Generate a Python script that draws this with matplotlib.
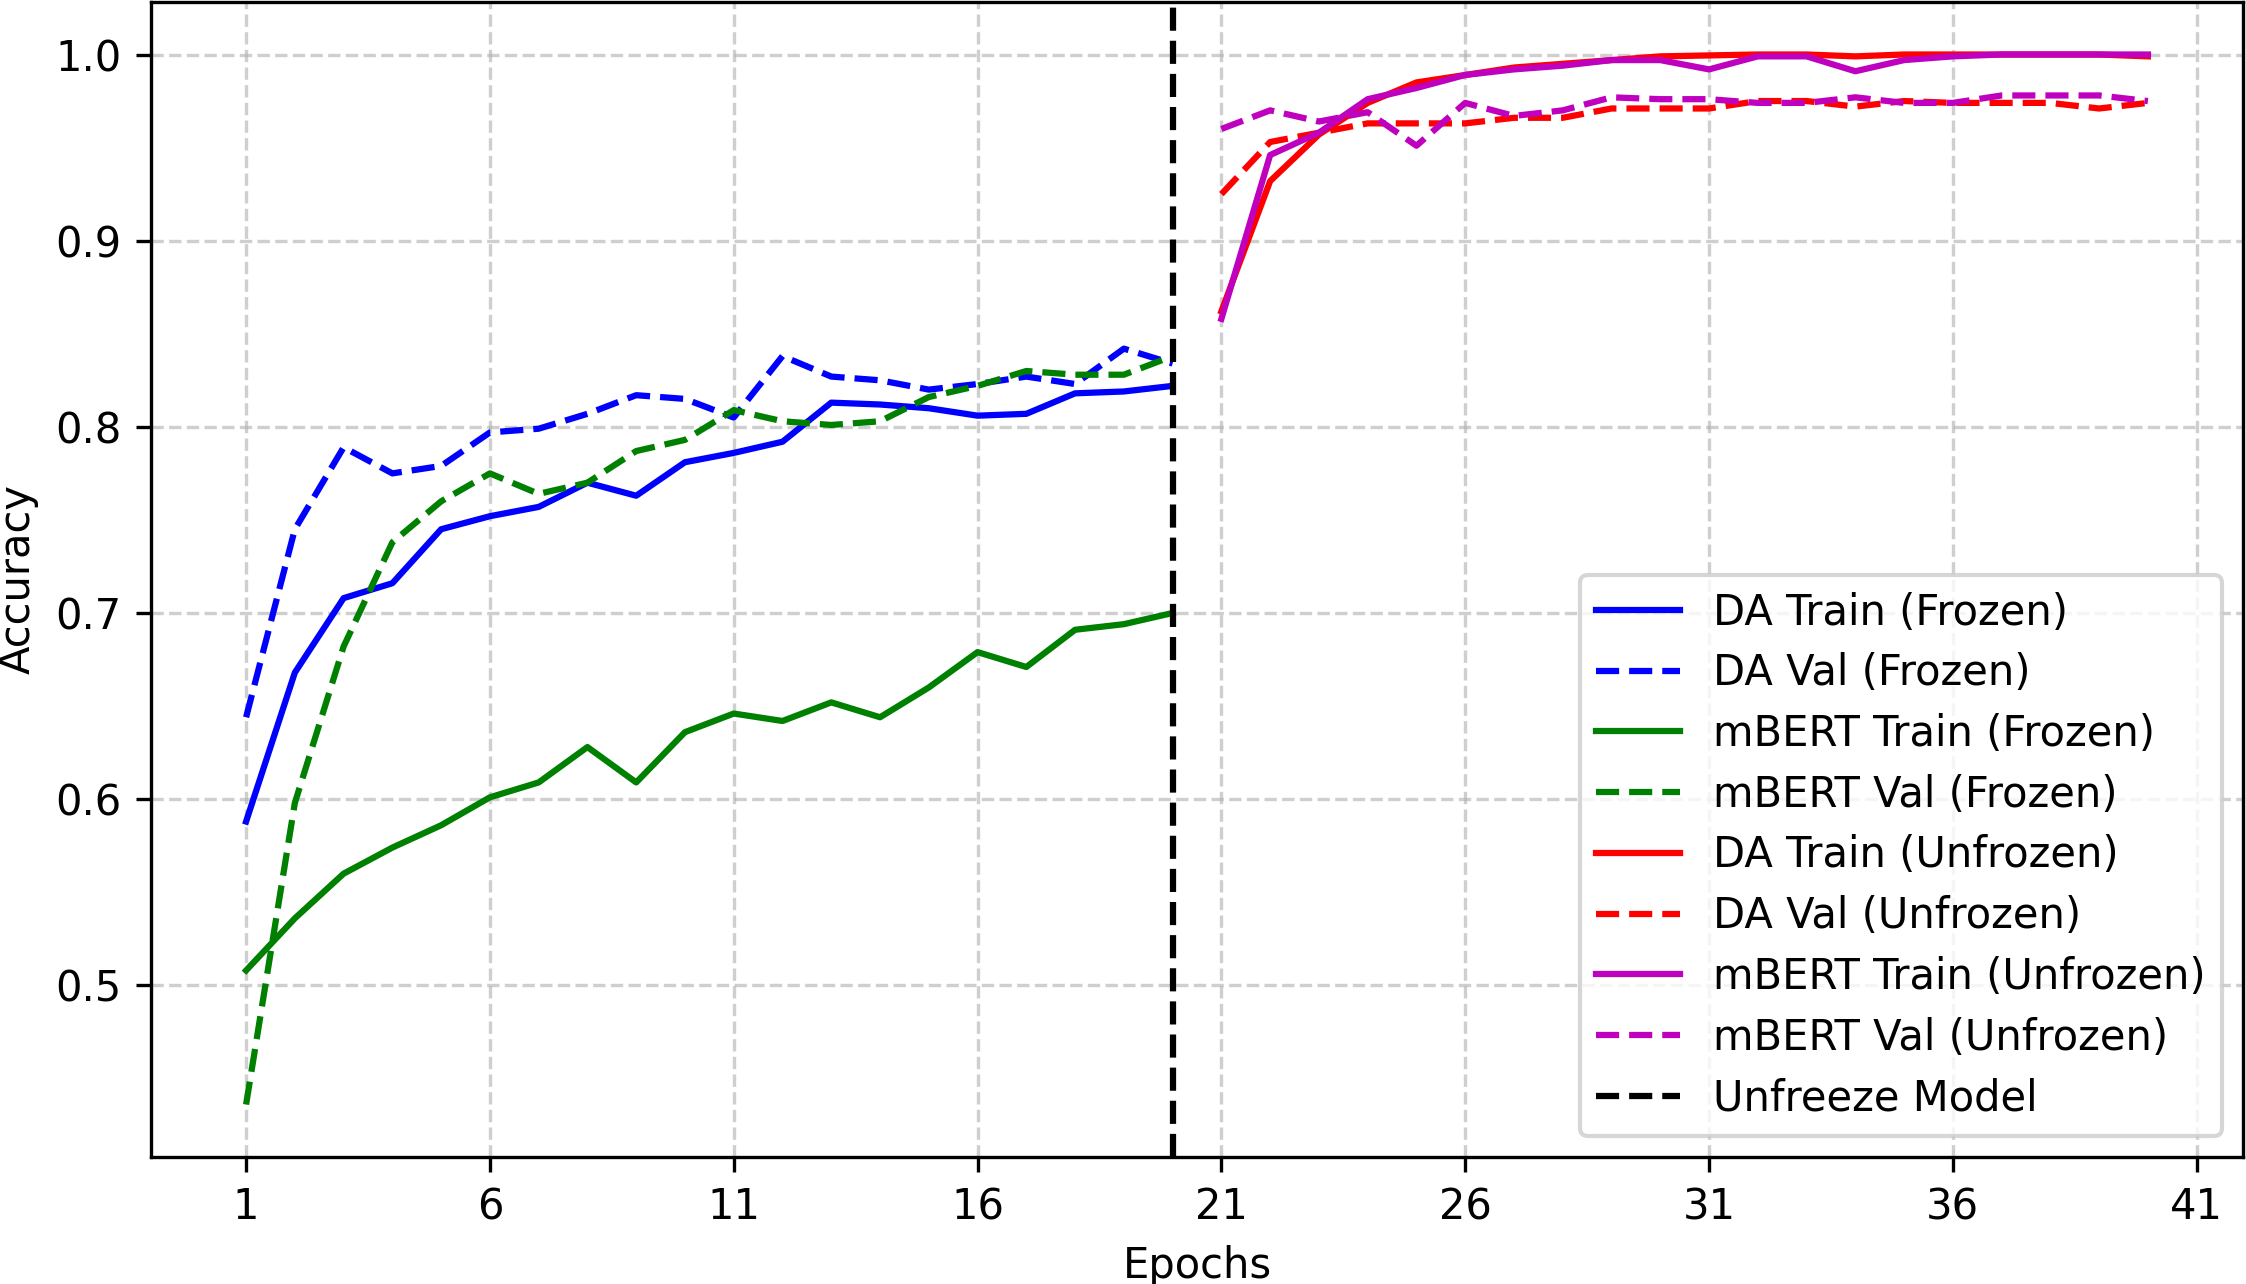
import matplotlib
matplotlib.use("Agg")
import matplotlib.pyplot as plt

epochs_frozen = list(range(1, 21))
epochs_unfrozen = list(range(21, 41))
unfreeze_epoch = 20
x_ticks = list(range(1, 42, 5))

# frozen phase (epochs 1-20)
da_train_frozen = [0.588, 0.668, 0.708, 0.716, 0.745, 0.752, 0.757, 0.770, 0.763, 0.781,
                   0.786, 0.792, 0.813, 0.812, 0.810, 0.806, 0.807, 0.818, 0.819, 0.822]
da_val_frozen = [0.644, 0.745, 0.789, 0.775, 0.779, 0.797, 0.799, 0.807, 0.817, 0.815,
                 0.805, 0.838, 0.827, 0.825, 0.820, 0.823, 0.827, 0.823, 0.842, 0.834]
mbert_train_frozen = [0.508, 0.536, 0.560, 0.574, 0.586, 0.601, 0.609, 0.628, 0.609, 0.636,
                      0.646, 0.642, 0.652, 0.644, 0.660, 0.679, 0.671, 0.691, 0.694, 0.700]
mbert_val_frozen = [0.436, 0.598, 0.682, 0.738, 0.760, 0.775, 0.764, 0.770, 0.787, 0.793,
                    0.809, 0.803, 0.801, 0.803, 0.816, 0.822, 0.830, 0.828, 0.828, 0.838]

# unfrozen phase (epochs 21-40)
da_train_unfrozen = [0.862, 0.932, 0.957, 0.974, 0.985, 0.989, 0.993, 0.995, 0.997, 0.999,
                     0.9995, 1.000, 1.000, 0.999, 1.000, 1.000, 1.000, 1.000, 1.000, 0.999]
da_val_unfrozen = [0.925, 0.953, 0.958, 0.963, 0.963, 0.963, 0.966, 0.966, 0.971, 0.971,
                   0.971, 0.975, 0.975, 0.972, 0.975, 0.974, 0.974, 0.974, 0.971, 0.974]
mbert_train_unfrozen = [0.858, 0.946, 0.958, 0.976, 0.982, 0.989, 0.992, 0.994, 0.997, 0.997,
                        0.992, 0.999, 0.999, 0.991, 0.997, 0.999, 1.000, 1.000, 1.000, 1.000]
mbert_val_unfrozen = [0.960, 0.970, 0.964, 0.969, 0.951, 0.974, 0.967, 0.970, 0.977, 0.976,
                      0.976, 0.974, 0.974, 0.977, 0.974, 0.974, 0.978, 0.978, 0.978, 0.975]

fig = plt.figure(figsize=(2246 / 300, 1284 / 300), dpi=300)
ax = fig.add_axes([151 / 2246, 127 / 1284, 2092 / 2246, 1155 / 1284])

plt.plot(epochs_frozen, da_train_frozen, 'b-', label='DA Train (Frozen)')
plt.plot(epochs_frozen, da_val_frozen, 'b--', label='DA Val (Frozen)')
plt.plot(epochs_frozen, mbert_train_frozen, 'g-', label='mBERT Train (Frozen)')
plt.plot(epochs_frozen, mbert_val_frozen, 'g--', label='mBERT Val (Frozen)')

plt.plot(epochs_unfrozen, da_train_unfrozen, 'r-', label='DA Train (Unfrozen)')
plt.plot(epochs_unfrozen, da_val_unfrozen, 'r--', label='DA Val (Unfrozen)')
plt.plot(epochs_unfrozen, mbert_train_unfrozen, 'm-', label='mBERT Train (Unfrozen)')
plt.plot(epochs_unfrozen, mbert_val_unfrozen, 'm--', label='mBERT Val (Unfrozen)')

plt.axvline(x=unfreeze_epoch, color='k', linestyle='--', label='Unfreeze Model')

plt.xlabel('Epochs')
plt.ylabel('Accuracy')
plt.xticks(x_ticks)
plt.legend(loc='lower right', labelspacing=0.45)
plt.grid(True, linestyle='--', alpha=0.6)

plt.savefig('out.png', dpi=300)
